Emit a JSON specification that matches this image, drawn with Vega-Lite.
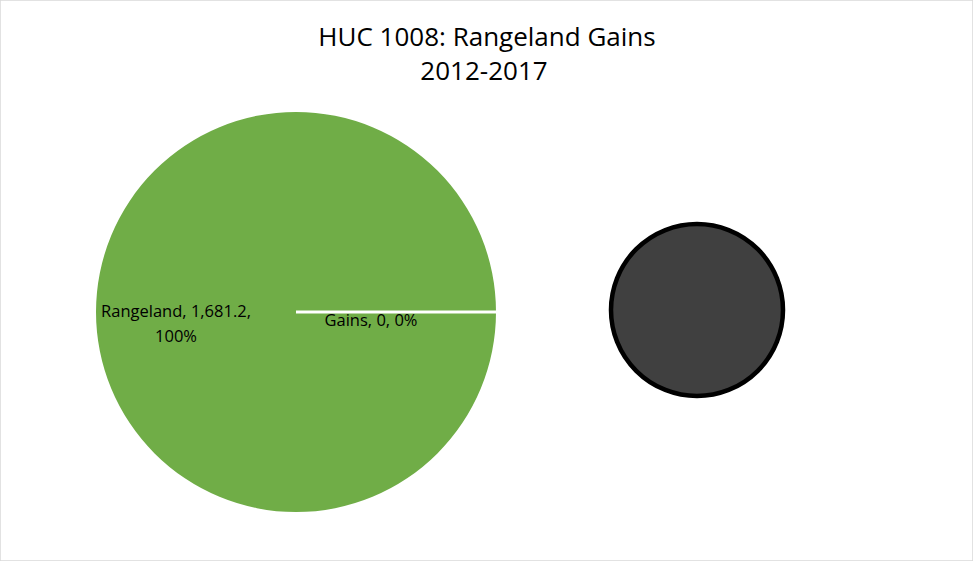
{
  "$schema": "https://vega.github.io/schema/vega-lite/v6.json",
  "width": 973,
  "height": 561,
  "autosize": {"type": "none"},
  "padding": 0,
  "background": "white",
  "config": {"view": {"stroke": "#d9d9d9", "strokeWidth": 1.5}},
  "datasets": {
    "mainPie": [
      {"category": "Rangeland", "value": 1681.2, "cx": 296, "cy": 312},
      {"category": "Gains", "value": 0, "cx": 296, "cy": 312}
    ],
    "secondPie": [
      {"category": "Gains", "value": 1, "cx": 697, "cy": 310}
    ],
    "divider": [
      {"x": 296, "x2": 496, "y": 312}
    ],
    "labels": [
      {"text": "Rangeland, 1,681.2,\n100%", "x": 176, "y": 317},
      {"text": "Gains, 0, 0%", "x": 371, "y": 326}
    ],
    "titles": [
      {"text": "HUC 1008: Rangeland Gains", "x": 487, "y": 46},
      {"text": "2012-2017", "x": 484, "y": 80}
    ]
  },
  "resolve": {"scale": {"theta": "independent"}},
  "layer": [
    {
      "data": {"name": "mainPie"},
      "mark": {"type": "arc", "outerRadius": 200, "stroke": null},
      "encoding": {
        "x": {"field": "cx", "type": "quantitative", "scale": {"domain": [0, 973], "nice": false, "zero": false}, "axis": null},
        "y": {"field": "cy", "type": "quantitative", "scale": {"domain": [0, 561], "nice": false, "zero": false, "reverse": true}, "axis": null},
        "theta": {"field": "value", "type": "quantitative", "stack": true, "scale": {"range": [1.5708, 7.854]}},
        "color": {"field": "category", "type": "nominal", "scale": {"domain": ["Rangeland", "Gains"], "range": ["#70AD47", "#404040"]}, "legend": null},
        "order": {"field": "category", "sort": "descending"}
      }
    },
    {
      "data": {"name": "divider"},
      "mark": {"type": "rule", "color": "white", "strokeWidth": 3},
      "encoding": {
        "x": {"field": "x", "type": "quantitative"},
        "x2": {"field": "x2"},
        "y": {"field": "y", "type": "quantitative"}
      }
    },
    {
      "data": {"name": "secondPie"},
      "mark": {"type": "arc", "outerRadius": 86, "fill": "#404040", "stroke": "black", "strokeWidth": 4.5},
      "encoding": {
        "x": {"field": "cx", "type": "quantitative"},
        "y": {"field": "cy", "type": "quantitative"},
        "theta": {"field": "value", "type": "quantitative", "stack": true, "scale": {"range": [1.5708, 7.854]}}
      }
    },
    {
      "data": {"name": "labels"},
      "mark": {"type": "text", "font": "Open Sans", "fontSize": 16.5, "color": "#000", "lineBreak": "\n", "lineHeight": 25, "align": "center", "baseline": "alphabetic"},
      "encoding": {
        "x": {"field": "x", "type": "quantitative"},
        "y": {"field": "y", "type": "quantitative"},
        "text": {"field": "text"}
      }
    },
    {
      "data": {"name": "titles"},
      "mark": {"type": "text", "font": "Open Sans", "fontSize": 26, "color": "#000", "align": "center", "baseline": "alphabetic"},
      "encoding": {
        "x": {"field": "x", "type": "quantitative"},
        "y": {"field": "y", "type": "quantitative"},
        "text": {"field": "text"}
      }
    }
  ]
}
